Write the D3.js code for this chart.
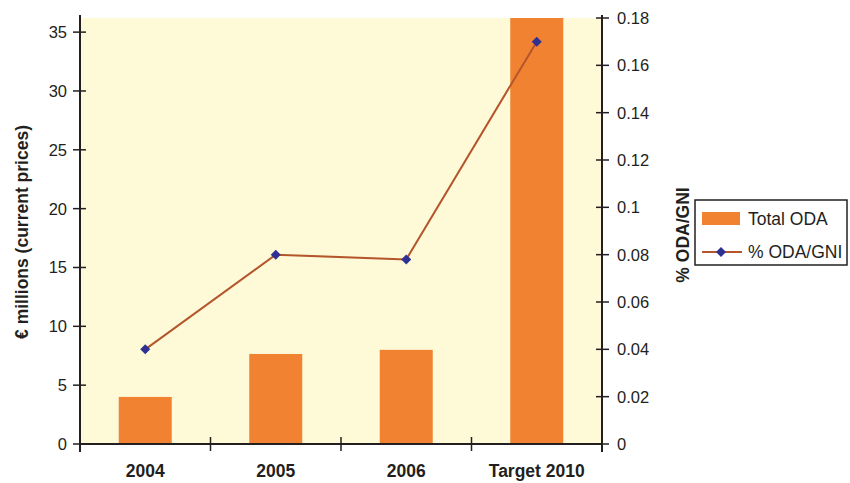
<!DOCTYPE html>
<html><head><meta charset="utf-8">
<script src="https://cdn.jsdelivr.net/npm/d3@7"></script>
<style>body{margin:0;background:#fff}svg{display:block}text{font-family:"Liberation Sans",Arial,sans-serif;fill:#231f20}</style>
</head><body><svg id="c" width="850" height="483"></svg>
<script>
const categories = ["2004","2005","2006","Target 2010"];
const totalODA = [4.0, 7.65, 8.0, 36.5];
const pctODAGNI = [0.04, 0.08, 0.078, 0.17];
const leftTicks = [0,5,10,15,20,25,30,35];
const rightTicks = [0,0.02,0.04,0.06,0.08,0.1,0.12,0.14,0.16,0.18];

const svg = d3.select("#c");
const L=80, R=602, T=18, B=444;
const xb = d3.scaleBand().domain(categories).range([L,R]);
const yL = d3.scaleLinear().domain([0,36.2]).range([B,T]);
const yR = d3.scaleLinear().domain([0,0.18]).range([B,T]);
const dark="#231f20";

svg.append("rect").attr("x",L).attr("y",T).attr("width",R-L).attr("height",B-T).attr("fill","#fef9d7");

svg.append("clipPath").attr("id","pc").append("rect").attr("x",L).attr("y",T).attr("width",R-L).attr("height",B-T);
svg.append("g").attr("clip-path","url(#pc)").selectAll("rect.bar").data(categories).join("rect")
  .attr("x",d=>xb(d)+xb.bandwidth()/2-26.5).attr("width",53)
  .attr("y",(d,i)=>yL(totalODA[i])).attr("height",(d,i)=>B-yL(totalODA[i]))
  .attr("fill","#f08232");

// left axis
const gl = svg.append("g");
gl.append("line").attr("x1",L).attr("x2",L).attr("y1",T-3).attr("y2",B+8).attr("stroke",dark).attr("stroke-width",2);
leftTicks.forEach(t=>{
  gl.append("line").attr("x1",L-7).attr("x2",L+6).attr("y1",yL(t)).attr("y2",yL(t)).attr("stroke",dark).attr("stroke-width",1.5);
  gl.append("text").attr("x",L-13).attr("y",yL(t)).attr("dy","0.36em").attr("text-anchor","end").attr("font-size",16.5).text(t);
});
// right axis
const gr = svg.append("g");
gr.append("line").attr("x1",R).attr("x2",R).attr("y1",T-3).attr("y2",B+8).attr("stroke",dark).attr("stroke-width",2);
rightTicks.forEach(t=>{
  gr.append("line").attr("x1",R-6).attr("x2",R+7).attr("y1",yR(t)).attr("y2",yR(t)).attr("stroke",dark).attr("stroke-width",1.5);
  gr.append("text").attr("x",R+15).attr("y",yR(t)).attr("dy","0.36em").attr("text-anchor","start").attr("font-size",16.5).text(t);
});
// bottom axis
svg.append("line").attr("x1",L).attr("x2",R).attr("y1",B).attr("y2",B).attr("stroke",dark).attr("stroke-width",2);
categories.slice(1).forEach(c=>{
  svg.append("line").attr("x1",xb(c)).attr("x2",xb(c)).attr("y1",B-7).attr("y2",B+7).attr("stroke",dark).attr("stroke-width",1.5);
});
svg.selectAll("text.xl").data(categories).join("text").attr("class","xl")
  .attr("x",d=>xb(d)+xb.bandwidth()/2).attr("y",477).attr("text-anchor","middle")
  .attr("font-size",17.5).attr("font-weight","bold").text(d=>d);

// line
const line = d3.line().x(d=>xb(d[0])+xb.bandwidth()/2).y(d=>yR(d[1]));
const pts = categories.map((c,i)=>[c,pctODAGNI[i]]);
svg.append("path").attr("d",line(pts)).attr("fill","none").attr("stroke","#b4552b").attr("stroke-width",2);
svg.selectAll("path.m").data(pts).join("path").attr("class","m")
  .attr("d",d3.symbol().type(d3.symbolDiamond2).size(64))
  .attr("transform",d=>`translate(${xb(d[0])+xb.bandwidth()/2},${yR(d[1])})`)
  .attr("fill","#2e3192");

// axis titles
svg.append("text").attr("transform","translate(28,232) rotate(-90)").attr("text-anchor","middle")
  .attr("font-size",17.5).attr("font-weight","bold").text("€ millions (current prices)");
svg.append("text").attr("transform","translate(689,235) rotate(-90)").attr("text-anchor","middle")
  .attr("font-size",17.5).attr("font-weight","bold").text("% ODA/GNI");

// legend
const lg = svg.append("g");
lg.append("rect").attr("x",695).attr("y",200).attr("width",152).attr("height",65).attr("fill","#fff").attr("stroke",dark).attr("stroke-width",1.5);
lg.append("rect").attr("x",702).attr("y",212).attr("width",38).attr("height",13).attr("fill","#f08232");
lg.append("text").attr("x",748).attr("y",219).attr("dy","0.36em").attr("font-size",17.5).text("Total ODA");
lg.append("line").attr("x1",702).attr("x2",742).attr("y1",252).attr("y2",252).attr("stroke","#b4552b").attr("stroke-width",2);
lg.append("path").attr("d",d3.symbol().type(d3.symbolDiamond2).size(64)).attr("transform","translate(721,252)").attr("fill","#2e3192");
lg.append("text").attr("x",748).attr("y",252).attr("dy","0.36em").attr("font-size",17.5).text("% ODA/GNI");
</script></body></html>
